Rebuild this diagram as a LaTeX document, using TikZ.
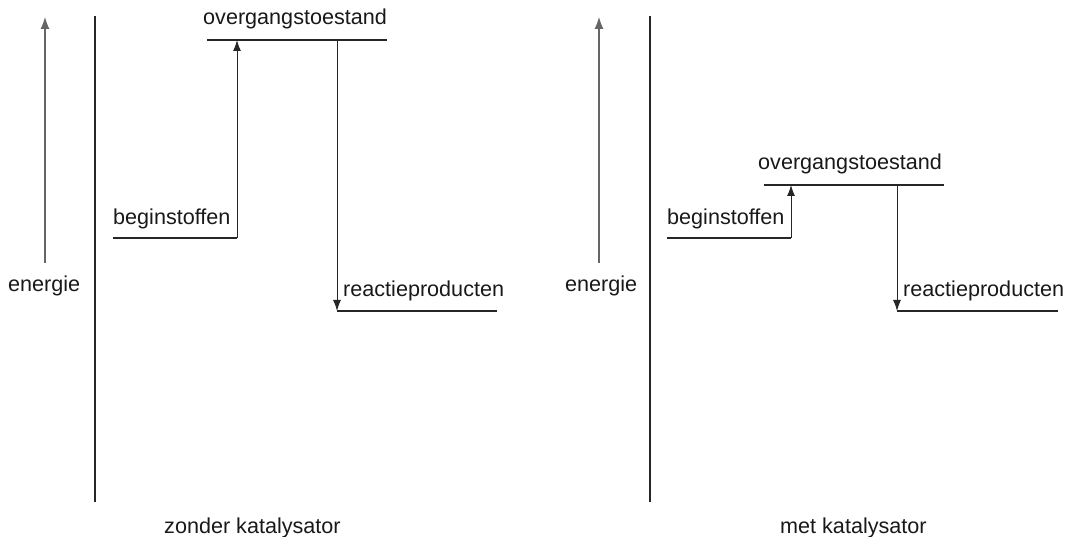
\documentclass[tikz,border=0pt]{standalone}
\usepackage{fontspec}
\setmainfont{Liberation Sans}
\usetikzlibrary{arrows.meta}
\begin{document}
\begin{tikzpicture}[x=1pt,y=-1pt,
  lbl/.style={inner sep=0pt,anchor=base west,font=\fontsize{21.6}{25}\selectfont,text=black!90},
  axisline/.style={line width=1.6pt,black!85},
  level/.style={line width=1.5pt,black!85},
  arr/.style={line width=1pt,black!85,-{Latex[length=11pt,width=8pt]}},
  earr/.style={line width=1.1pt,black!60,-{Latex[length=12pt,width=9pt]}}]
\useasboundingbox (0,0) rectangle (1071,537);
% ---------- left panel ----------
\coordinate (eL0) at (45,263); \coordinate (eL1) at (45,17);
\draw[earr] (eL0) -- (eL1);
\node[lbl] (enL) at (8,292) {energie};
\coordinate (axL0) at (95,16); \coordinate (axL1) at (95,502);
\draw[axisline] (axL0) -- (axL1);
\coordinate (bL0) at (113,238); \coordinate (bL1) at (237,238);
\draw[level] (bL0) -- (bL1);
\node[lbl] (bsL) at (113,225) {beginstoffen};
\coordinate (oL0) at (207,40); \coordinate (oL1) at (387,40);
\draw[level] (oL0) -- (oL1);
\node[lbl] (ovL) at (203,25) {overgangstoestand};
\coordinate (oLa) at (237,40); \coordinate (oLd) at (337,40);
\coordinate (rL0) at (337,311); \coordinate (rL1) at (497,311);
\draw[level] (rL0) -- (rL1);
\node[lbl] (rpL) at (343,297) {reactieproducten};
\draw[arr] (bL1) -- (oLa);
\draw[arr] (oLd) -- (rL0);
\node[lbl] (zk) at (164,533) {zonder katalysator};
% ---------- right panel ----------
\coordinate (eR0) at (599,263); \coordinate (eR1) at (599,17);
\draw[earr] (eR0) -- (eR1);
\node[lbl] (enR) at (565,292) {energie};
\coordinate (axR0) at (650,16); \coordinate (axR1) at (650,502);
\draw[axisline] (axR0) -- (axR1);
\coordinate (bR0) at (667,238); \coordinate (bR1) at (791,238);
\draw[level] (bR0) -- (bR1);
\node[lbl] (bsR) at (667,225) {beginstoffen};
\coordinate (oR0) at (764,185); \coordinate (oR1) at (944,185);
\draw[level] (oR0) -- (oR1);
\node[lbl] (ovR) at (758,170) {overgangstoestand};
\coordinate (oRa) at (791,185); \coordinate (oRd) at (897,185);
\coordinate (rR0) at (897,311); \coordinate (rR1) at (1058,311);
\draw[level] (rR0) -- (rR1);
\node[lbl] (rpR) at (903,297) {reactieproducten};
\draw[arr] (bR1) -- (oRa);
\draw[arr] (oRd) -- (rR0);
\node[lbl] (mk) at (780,533) {met katalysator};
\end{tikzpicture}
\end{document}
